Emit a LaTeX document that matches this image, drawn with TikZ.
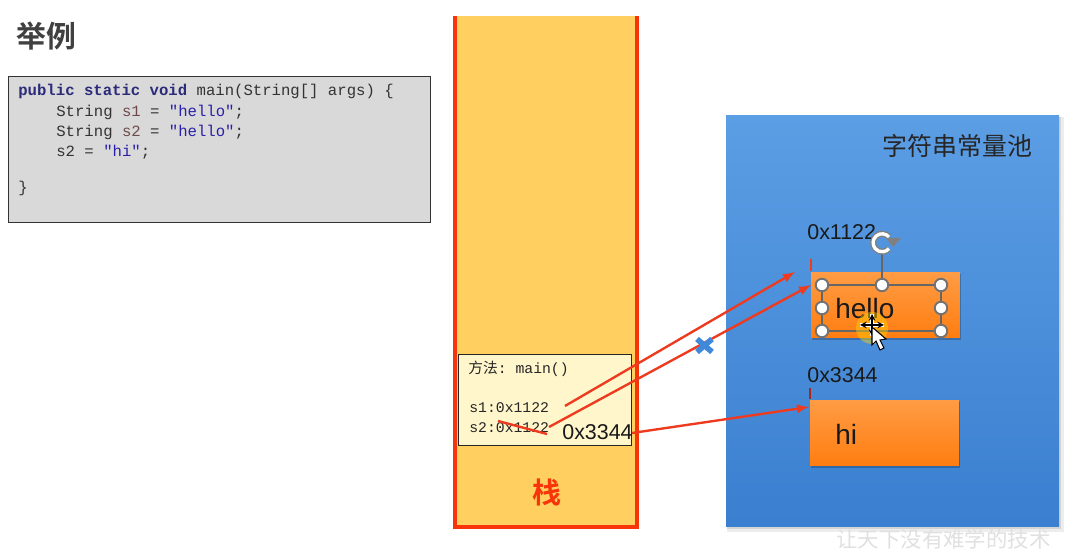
\documentclass[tikz,border=0pt]{standalone}
\usepackage{fontspec}
\setmainfont{Liberation Sans}
\setmonofont{Liberation Mono}
\newfontfamily\cjk[BoldFont=Noto Sans CJK SC Bold]{Noto Sans CJK SC}
\usepackage{tikz}
\usetikzlibrary{positioning,shadows}

\definecolor{codegrey}{HTML}{D9D9D9}
\definecolor{codekey}{HTML}{2B2B7A}
\definecolor{codestr}{HTML}{2A1FA8}
\definecolor{codevar}{HTML}{6E4A4A}
\definecolor{stackfill}{HTML}{FFCF60}
\definecolor{stackred}{HTML}{F8340A}
\definecolor{framefill}{HTML}{FFF6CC}
\definecolor{linered}{HTML}{EE3A1E}
\definecolor{pooltop}{HTML}{5C9EE4}
\definecolor{poolbottom}{HTML}{3A7FD0}
\definecolor{boxtop}{HTML}{FF9C45}
\definecolor{boxbottom}{HTML}{FF7D10}
\definecolor{crossblue}{HTML}{3F88DA}

\tikzset{
	codeline/.style={anchor=west, inner sep=0pt, font=\fontsize{8.9pt}{10pt}\ttfamily, text=black!80},
	frameline/.style={anchor=west, inner sep=0pt, font=\fontsize{8.4pt}{10pt}\ttfamily, text=black!85},
	addr/.style={anchor=west, inner sep=0pt, font=\fontsize{12.2pt}{14pt}\selectfont, text=black!90},
	boxlabel/.style={anchor=west, inner sep=0pt, font=\fontsize{15.9pt}{18pt}\selectfont, text=black!90},
	orangebox/.style={inner sep=0pt, minimum width=2.98cm, minimum height=1.32cm, top color=boxtop, bottom color=boxbottom, general shadow={fill=black, opacity=0.22, shadow xshift=0.6pt, shadow yshift=-0.9pt}},
	handle/.style={circle, draw=black!55, fill=white, line width=1.1pt, inner sep=0pt, minimum size=0.25cm},
	refline/.style={linered, line width=1.35pt},
	tick/.style={linered, line width=1pt}
}

\begin{document}
\begin{tikzpicture}[x=0.02cm, y=-0.02cm]

	\useasboundingbox (0, 0) rectangle (1080, 550);
	\clip (0, 0) rectangle (1080, 550);

	\node (title) [anchor=west, inner sep=0pt, text=black!75, font=\fontsize{17pt}{20pt}\cjk\bfseries] at (16, 36) {举例};

	\draw [black!80, fill=codegrey, line width=0.5pt] (8, 76) rectangle (430, 222);
	\node (line1) [codeline] at (18, 91) {\textcolor{codekey}{\textbf{public static void}} main(String[] args) \{};
	\node (line2) [codeline] at (56, 112) {String \textcolor{codevar}{s1} = \textcolor{codestr}{"hello"};};
	\node (line3) [codeline] at (56, 132) {String \textcolor{codevar}{s2} = \textcolor{codestr}{"hello"};};
	\node (line4) [codeline] at (56, 152) {s2 = \textcolor{codestr}{"hi"};};
	\node (line5) [codeline] at (18, 188) {\}};

	\fill [stackfill] (455, 16) rectangle (637, 527);
	\draw [stackred, line width=2.4pt] (455, 16) -- (455, 527) -- (637, 527) -- (637, 16);
	\node (stacklabel) [inner sep=0pt, text=stackred, font=\fontsize{16.5pt}{20pt}\cjk\bfseries] at (547, 492) {栈};

	\draw [black!85, fill=framefill, line width=0.5pt] (458, 354) rectangle (631, 445);
	\node (method) [frameline] at (468, 369) {{\cjk 方法}: main()};
	\node (s1val) [frameline] at (469, 408) {s1:0x1122};
	\node (s2val) [frameline] at (469, 428) {s2:0x1122};
	\node (newaddr) [addr] at (562, 432) {0x3344};

	\fill [black, opacity=0.07] (727, 117) rectangle (1064, 532);
	\fill [black, opacity=0.10] (727, 117) rectangle (1061, 529);
	\shade [top color=pooltop, bottom color=poolbottom] (726, 116) rectangle (1059, 527);
	\node (poollabel) [anchor=west, inner sep=0pt, text=black!85, font=\fontsize{14.2pt}{17pt}\cjk] at (882, 146) {字符串常量池};

	\node (addr1) [addr] at (807, 232) {0x1122};
	\node (addr2) [addr] at (807, 375) {0x3344};

	\node (hellobox) [orangebox] at (885.5, 305) {};
	\node (hibox) [orangebox] at (884.5, 433) {};
	\node (hellolabel) [boxlabel] at (835, 309) {hello};
	\node (hilabel) [boxlabel] at (835, 434) {hi};

	\coordinate (s1start) at (565, 406);
	\coordinate (s1end) at (795, 272);
	\coordinate (s2start) at (549, 427);
	\coordinate (s2end) at (811, 285);
	\coordinate (oldstart) at (498, 421);
	\coordinate (oldend) at (547, 434);
	\coordinate (newstart) at (632, 433);
	\coordinate (newend) at (809, 407);

	\draw [refline, -latex] (s1start) -- (s1end);
	\draw [refline, -latex] (s2start) -- (s2end);
	\draw [refline] (oldstart) -- (oldend);
	\draw [refline, -latex] (newstart) -- (newend);

	\draw [tick] (811, 259) -- (811, 271);
	\draw [tick, black!30!linered] (810, 388) -- (810, 399);

	\draw [crossblue, line width=3.2pt] (697, 339) -- (712, 352);
	\draw [crossblue, line width=3.2pt] (697, 352) -- (712, 339);

	\draw [black!60, line width=0.6pt] (822, 285) rectangle (941, 331);
	\draw [black!60, line width=0.6pt] (882, 285) -- (882, 252);
	\node (h1) [handle] at (822, 285) {};
	\node (h2) [handle] at (882, 285) {};
	\node (h3) [handle] at (941, 285) {};
	\node (h4) [handle] at (822, 308) {};
	\node (h5) [handle] at (941, 308) {};
	\node (h6) [handle] at (822, 331) {};
	\node (h7) [handle] at (941, 331) {};

	\draw [black!50, line width=3.4pt] (889, 237) arc (-40:-320:9);
	\draw [white, line width=1.9pt] (889, 237) arc (-40:-320:9);
	\fill [black!50] (886, 238) -- (901, 238) -- (893, 247) -- cycle;

	\fill [yellow!70!orange, opacity=0.45] (872, 328) circle (16);
	\draw [white, line width=1.8pt] (860, 325) -- (884, 325);
	\draw [white, line width=1.8pt] (872, 314) -- (872, 336);
	\draw [black, line width=0.7pt, <->, >=stealth] (860, 325) -- (884, 325);
	\draw [black, line width=0.7pt, <->, >=stealth] (872, 314) -- (872, 336);
	\draw [black, fill=white, line width=0.6pt] (872, 327) -- (872, 345) -- (876, 341) -- (880, 350) -- (884, 348) -- (880, 340) -- (886, 339) -- cycle;

	\node (watermark) [anchor=west, inner sep=0pt, text=black!12, font=\fontsize{12.2pt}{14pt}\cjk] at (836, 539) {让天下没有难学的技术};

\end{tikzpicture}
\end{document}
